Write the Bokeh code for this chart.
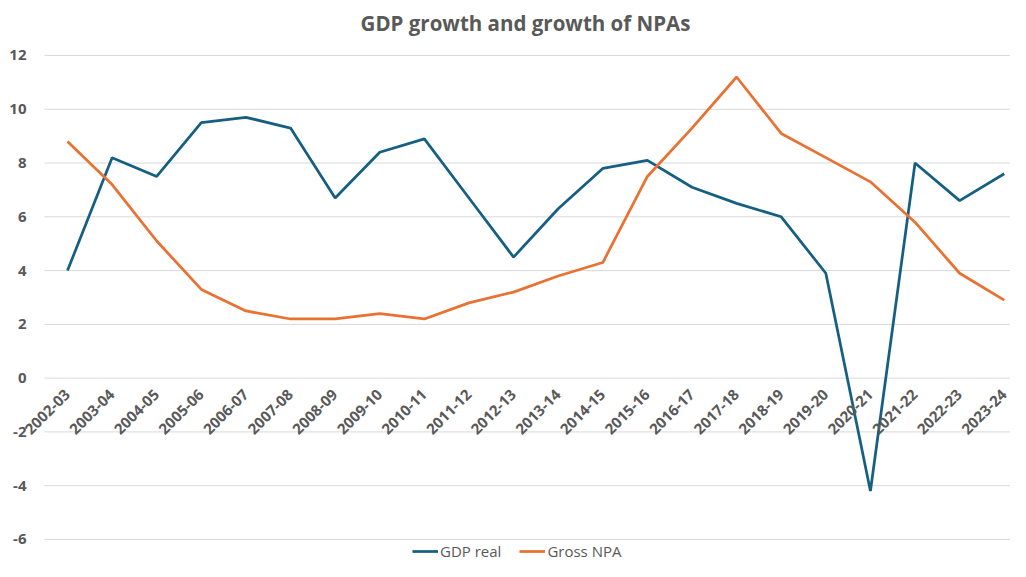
import math
from bokeh.plotting import figure
from bokeh.models import (Range1d, ColumnDataSource, Legend, LegendItem, FixedTicker,
                          LinearAxis, PrintfTickFormatter, Label)
from bokeh.embed import file_html
from bokeh.resources import INLINE

categories = ["2002-03", "2003-04", "2004-05", "2005-06", "2006-07", "2007-08",
              "2008-09", "2009-10", "2010-11", "2011-12", "2012-13", "2013-14",
              "2014-15", "2015-16", "2016-17", "2017-18", "2018-19", "2019-20",
              "2020-21", "2021-22", "2022-23", "2023-24"]
gdp_real = [4.0, 8.2, 7.5, 9.5, 9.7, 9.3, 6.7, 8.4, 8.9, 6.7, 4.5, 6.3,
            7.8, 8.1, 7.1, 6.5, 6.0, 3.9, -4.2, 8.0, 6.6, 7.6]
gross_npa = [8.8, 7.2, 5.1, 3.3, 2.5, 2.2, 2.2, 2.4, 2.2, 2.8, 3.2, 3.8,
             4.3, 7.5, 9.3, 11.2, 9.1, 8.2, 7.3, 5.8, 3.9, 2.9]
y_ticks = [-6, -4, -2, 0, 2, 4, 6, 8, 10, 12]
title_text = "GDP growth and growth of NPAs"

FONT = "Open Sans"
GREY = "#595959"
BLUE = "#156082"
ORANGE = "#E97132"

W, H = 1010, 561
X_START, X_END = -1.502, 21.14
Y_START, Y_END = -6.82, 14.045
GRID_X0 = -0.516

idx = list(range(len(categories)))
src = ColumnDataSource(dict(x=idx, gdp=gdp_real, npa=gross_npa))
grid_src = ColumnDataSource(dict(y=y_ticks))

p = figure(width=W, height=H, output_backend="svg", toolbar_location=None,
           x_range=Range1d(X_START, X_END), y_range=Range1d(Y_START, Y_END),
           x_axis_location=None, y_axis_location=None,
           min_border=0)
p.outline_line_color = None
p.background_fill_color = "white"
p.border_fill_color = "white"
p.grid.visible = False

# horizontal gridlines at the value-axis ticks
p.segment(x0=GRID_X0, x1=X_END, y0="y", y1="y", source=grid_src,
          line_color="#d9d9d9", line_width=1)

r1 = p.line("x", "gdp", source=src, line_color=BLUE, line_width=2.75)
r2 = p.line("x", "npa", source=src, line_color=ORANGE, line_width=2.75)

yaxis = LinearAxis(fixed_location=GRID_X0, ticker=FixedTicker(ticks=y_ticks),
                   formatter=PrintfTickFormatter(format="%d"),
                   axis_line_color=None, major_tick_line_color=None,
                   minor_tick_line_color=None, major_label_standoff=12,
                   major_label_text_font=FONT, major_label_text_font_size="15px",
                   major_label_text_font_style="bold", major_label_text_color=GREY)
p.add_layout(yaxis, "left")

xaxis = LinearAxis(fixed_location=0, ticker=FixedTicker(ticks=idx),
                   major_label_overrides={i: c for i, c in zip(idx, categories)},
                   major_label_orientation=math.pi / 4,
                   axis_line_color=None, major_tick_line_color=None,
                   minor_tick_line_color=None, major_label_standoff=8,
                   major_label_text_font=FONT, major_label_text_font_size="15px",
                   major_label_text_font_style="bold", major_label_text_color=GREY)
p.add_layout(xaxis, "below")

p.add_layout(Label(x=525, y=H - 22, x_units="screen", y_units="screen",
                   text=title_text, text_align="center", text_baseline="middle",
                   text_font=FONT, text_font_size="20.5px", text_font_style="bold",
                   text_color=GREY))

legend = Legend(items=[LegendItem(label="GDP real", renderers=[r1]),
                       LegendItem(label="Gross NPA", renderers=[r2])],
                orientation="horizontal", location=(412, 0),
                label_text_font=FONT, label_text_font_size="15px",
                label_text_color=GREY, border_line_color=None,
                background_fill_alpha=0, glyph_width=26, spacing=18,
                padding=0, margin=0, label_standoff=2)
p.add_layout(legend)

open("out.html", "w").write(file_html(p, INLINE))
